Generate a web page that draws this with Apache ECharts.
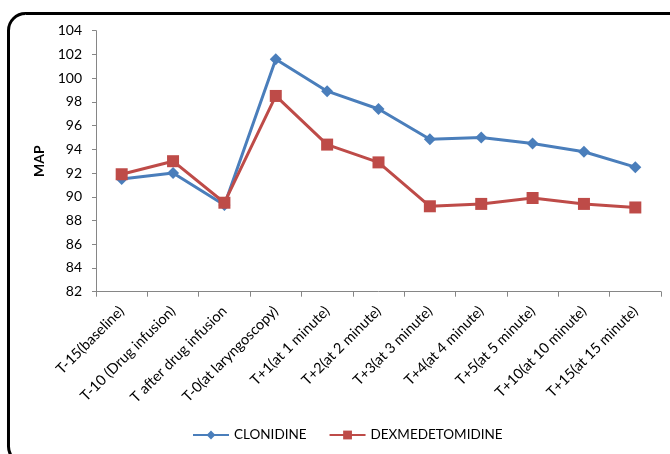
<!DOCTYPE html>
<html>
<head>
<meta charset="utf-8">
<script src="https://cdn.jsdelivr.net/npm/echarts@6/dist/echarts.min.js"></script>
<style>
  html, body { margin: 0; padding: 0; background: #fff; }
  #chart { width: 670px; height: 454px; }
</style>
</head>
<body>
<div id="chart"></div>
<script>
// Time points of the measurement
const categories = [
  'T-15(baseline)',
  'T-10 (Drug infusion)',
  'T after drug infusion',
  'T-0(at laryngoscopy)',
  'T+1(at 1 minute)',
  'T+2(at 2 minute)',
  'T+3(at 3 minute)',
  'T+4(at 4 minute)',
  'T+5(at 5 minute)',
  'T+10(at 10 minute)',
  'T+15(at 15 minute)'
];

// Mean arterial pressure per group
const clonidine = [91.5, 92.0, 89.3, 101.6, 98.9, 97.4, 94.85, 95.0, 94.5, 93.8, 92.5];
const dexmedetomidine = [91.9, 93.0, 89.5, 98.5, 94.4, 92.9, 89.2, 89.4, 89.9, 89.4, 89.1];

const seriesNames = ['CLONIDINE', 'DEXMEDETOMIDINE'];
const yTicks = { min: 82, max: 104, step: 2 };

const FONT = 'Lato, "Liberation Sans", sans-serif';
const BLUE = '#4A7EBB';
const RED = '#BE4B48';

const chart = echarts.init(document.getElementById('chart'), null, { renderer: 'canvas' });

chart.setOption({
  backgroundColor: '#ffffff',
  animation: false,
  textStyle: { fontFamily: FONT },
  graphic: [{
    type: 'rect',
    shape: { x: 8.5, y: 13.5, width: 680, height: 450, r: 17 },
    style: { fill: 'none', stroke: '#000', lineWidth: 3 },
    z: 100
  }],
  grid: { left: 96, top: 30.7, right: 9, bottom: 162.3, containLabel: false },
  legend: {
    bottom: 7,
    left: 187,
    itemWidth: 36,
    itemHeight: 11,
    itemGap: 22,
    textStyle: { fontFamily: FONT, fontSize: 13.5, color: '#000' },
    data: seriesNames
  },
  xAxis: {
    type: 'category',
    data: categories,
    boundaryGap: true,
    axisLine: { lineStyle: { color: '#868686', width: 1 } },
    axisTick: { show: true, length: 5, alignWithLabel: false, lineStyle: { color: '#868686' } },
    axisLabel: {
      interval: 0,
      rotate: 45,
      margin: 17,
      fontFamily: FONT,
      fontSize: 14.5,
      color: '#000'
    },
    splitLine: { show: false }
  },
  yAxis: {
    type: 'value',
    min: yTicks.min,
    max: yTicks.max,
    interval: yTicks.step,
    name: 'MAP',
    nameLocation: 'middle',
    nameGap: 49,
    nameRotate: 90,
    nameTextStyle: { fontFamily: FONT, fontSize: 14, fontWeight: 'bold', color: '#000' },
    axisLine: { show: true, lineStyle: { color: '#868686', width: 1 } },
    axisTick: { show: true, length: 4, lineStyle: { color: '#868686' } },
    axisLabel: { fontFamily: FONT, fontSize: 14, color: '#000', margin: 14 },
    splitLine: { show: false }
  },
  series: [
    {
      name: seriesNames[0],
      type: 'line',
      data: clonidine,
      symbol: 'diamond',
      symbolSize: 12,
      color: BLUE,
      lineStyle: { width: 3, color: BLUE },
      itemStyle: { color: BLUE },
      z: 2
    },
    {
      name: seriesNames[1],
      type: 'line',
      data: dexmedetomidine,
      symbol: 'rect',
      symbolSize: 12,
      color: RED,
      lineStyle: { width: 3, color: RED },
      itemStyle: { color: RED },
      z: 3
    }
  ]
});
</script>
</body>
</html>
